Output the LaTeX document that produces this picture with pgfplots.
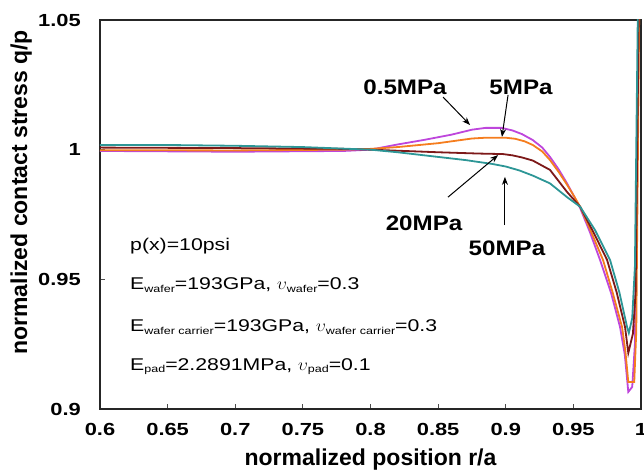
\documentclass[border=0pt]{standalone}
\usepackage{fontspec}
\setmainfont{Liberation Sans}
\newfontfamily\tickfont[FakeStretch=1.25]{Liberation Sans}
\newfontfamily\txtfont[FakeStretch=1.25]{Liberation Sans}
\newfontfamily\lblfont[FakeStretch=1.15]{Liberation Sans}
\usepackage{pgfplots}
\pgfplotsset{compat=1.18}
\usetikzlibrary{arrows.meta,calc}
\definecolor{cpurple}{RGB}{190,70,220}
\definecolor{corange}{RGB}{245,125,30}
\definecolor{cbrown}{RGB}{125,25,25}
\definecolor{cteal}{RGB}{45,150,150}
\newcommand{\sub}[1]{\raisebox{-0.25ex}{\fontsize{10}{11}\selectfont #1}}
\begin{document}
\begin{tikzpicture}
\begin{axis}[
  width=541pt, height=389pt, scale only axis,
  xmin=0.6, xmax=1, ymin=0.9, ymax=1.05,
  xtick={0.6,0.65,0.7,0.75,0.8,0.85,0.9,0.95,1},
  xticklabels={0.6,0.65,0.7,0.75,0.8,0.85,0.9,0.95,1},
  ytick={0.9,0.95,1,1.05},
  yticklabels={0.9,0.95,1,1.05},
  tick pos=left, tick align=inside,
  major tick length=5pt,
  tick style={black!70, line width=0.8pt},
  axis line style={line width=2pt, black!85},
  ticklabel style={font=\tickfont\bfseries\fontsize{17.5}{20}\selectfont, inner sep=0pt},
  xticklabel style={anchor=north, yshift=-14pt},
  yticklabel style={anchor=east, xshift=-19pt},
  xlabel={normalized position r/a},
  ylabel={normalized contact stress q/p},
  xlabel style={font=\bfseries\fontsize{23}{26}\selectfont, at={(axis description cs:0.5,-0.1465)}, anchor=base},
  ylabel style={font=\bfseries\fontsize{23}{26}\selectfont, at={(axis description cs:-0.1349,0.557)}, anchor=base, rotate=0},
  clip=true,
]
\coordinate (SW) at (rel axis cs:0,0);
\coordinate (NE) at (rel axis cs:1,1);
% 0.5MPa
\addplot[cpurple, line width=1.8pt] coordinates {
(0.60,0.9995) (0.70,0.9992) (0.78,0.9995) (0.80,1.0000) (0.82,1.0020) (0.84,1.0038)
(0.86,1.0058) (0.875,1.0077) (0.885,1.0084) (0.897,1.0084) (0.905,1.0074) (0.912,1.0060)
(0.920,1.0037) (0.927,1.0008) (0.9327,0.9972) (0.939,0.9925) (0.9453,0.9870)
(0.950,0.9825) (0.955,0.9775) (0.962,0.9685) (0.9697,0.9575) (0.978,0.9445)
(0.9845,0.9316) (0.988,0.9210) (0.9906,0.9066) (0.9935,0.9085) (0.9955,0.925) (0.9985,1.06)};
% 5MPa
\addplot[corange, line width=1.8pt] coordinates {
(0.60,0.9998) (0.70,0.9997) (0.78,1.0000) (0.80,1.0003) (0.82,1.0010) (0.85,1.0025)
(0.875,1.0043) (0.885,1.0046) (0.90,1.0046) (0.907,1.0042) (0.914,1.0032) (0.920,1.0018)
(0.927,0.9993) (0.9327,0.9960) (0.939,0.9915) (0.9453,0.9865) (0.950,0.9825) (0.955,0.9780)
(0.963,0.9685) (0.9719,0.9575) (0.979,0.9450) (0.9860,0.9316) (0.9885,0.9220) (0.9906,0.9104)
(0.9950,0.9104) (0.9965,0.93) (0.9988,1.06)};
% 20MPa
\addplot[cbrown, line width=1.8pt] coordinates {
(0.60,1.0008) (0.70,1.0006) (0.78,1.0003) (0.80,1.0000) (0.85,0.9990) (0.88,0.9985)
(0.898,0.9983) (0.905,0.9978) (0.912,0.9970) (0.920,0.9958) (0.9327,0.9922) (0.9453,0.9837)
(0.955,0.9780) (0.965,0.9680) (0.9749,0.9575) (0.982,0.9450) (0.9882,0.9316) (0.9906,0.9216)
(0.9940,0.9290) (0.9960,0.945) (0.9985,1.06)};
% 50MPa
\addplot[cteal, line width=1.8pt] coordinates {
(0.60,1.0018) (0.65,1.0018) (0.70,1.0015) (0.75,1.0010) (0.80,1.0000) (0.82,0.9990)
(0.85,0.9972) (0.87,0.9960) (0.89,0.9945) (0.90,0.9935) (0.91,0.9920) (0.92,0.9900)
(0.9327,0.9870) (0.9453,0.9817) (0.955,0.9780) (0.966,0.9690) (0.9771,0.9575)
(0.984,0.9450) (0.9897,0.9316) (0.9910,0.9293) (0.9935,0.9350) (0.9955,0.9550) (0.9978,1.06)};
% curve labels
\node[font=\lblfont\bfseries\fontsize{21}{24}\selectfont, inner sep=0pt] at (axis cs:0.8255,1.0242) {0.5MPa};
\node[font=\lblfont\bfseries\fontsize{21}{24}\selectfont, inner sep=0pt] at (axis cs:0.9113,1.0242) {5MPa};
\node[font=\lblfont\bfseries\fontsize{21}{24}\selectfont, inner sep=0pt] at (axis cs:0.8396,0.9717) {20MPa};
\node[font=\lblfont\bfseries\fontsize{21}{24}\selectfont, inner sep=0pt] at (axis cs:0.9009,0.9621) {50MPa};
% arrows
\draw[-{Stealth[length=8pt,width=6pt]}, line width=1pt] (axis cs:0.8536,1.0203) -- (axis cs:0.8736,1.0095);
\draw[-{Stealth[length=8pt,width=6pt]}, line width=1pt] (axis cs:0.9017,1.0211) -- (axis cs:0.8972,1.0049);
\draw[-{Stealth[length=8pt,width=6pt]}, line width=1pt] (axis cs:0.8573,0.9817) -- (axis cs:0.8943,0.9979);
\draw[-{Stealth[length=8pt,width=6pt]}, line width=1pt] (axis cs:0.8994,0.9709) -- (axis cs:0.8994,0.9895);
% text block
\begin{scope}[every node/.style={anchor=base west, inner sep=0pt, font=\txtfont\fontsize{17}{20}\selectfont}]
\node at (axis cs:0.6222,0.9613) {p(x)=10psi};
\node at (axis cs:0.6222,0.9459) {E\sub{wafer}=193GPa, $\upsilon$\sub{wafer}=0.3};
\node at (axis cs:0.6222,0.9297) {E\sub{wafer carrier}=193GPa, $\upsilon$\sub{wafer carrier}=0.3};
\node at (axis cs:0.6222,0.9150) {E\sub{pad}=2.2891MPa, $\upsilon$\sub{pad}=0.1};
\end{scope}
\end{axis}
\pgfresetboundingbox
\path ($(SW)+(-100pt,-64pt)$) rectangle ($(NE)+(3pt,20pt)$);
\end{tikzpicture}
\end{document}
